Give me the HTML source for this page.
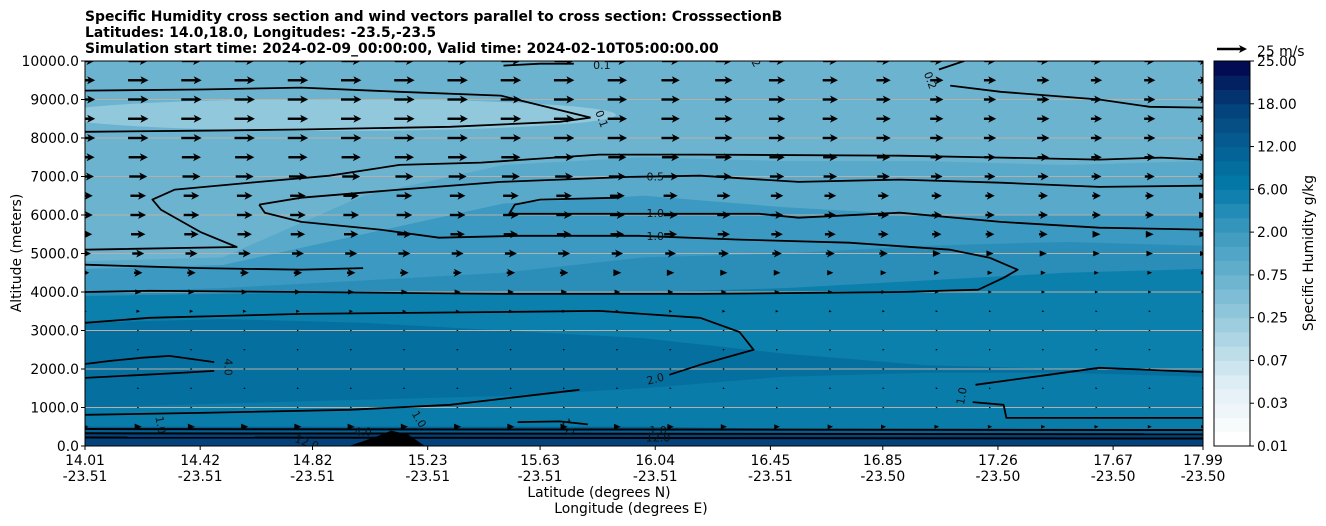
<!DOCTYPE html>
<html><head><meta charset="utf-8"><style>
body{margin:0;background:#fff;}
svg{display:block;font-family:"DejaVu Sans","Liberation Sans",sans-serif;}
</style></head><body>
<svg id="chart" width="1326" height="526" viewBox="0 0 1326 526"></svg>
<script>
// ---- data ----
const xTickLats = [14.01,14.42,14.82,15.23,15.63,16.04,16.45,16.85,17.26,17.67,17.99];
const xTickLons = ["-23.51","-23.51","-23.51","-23.51","-23.51","-23.51","-23.51","-23.50","-23.50","-23.50","-23.50"];
const yTicks = [0,1000,2000,3000,4000,5000,6000,7000,8000,9000,10000];
const cbTicks = ["0.01","0.03","0.07","0.25","0.75","2.00","6.00","12.00","18.00","25.00"];
const bandLats = [14.01,14.5,15.0,15.5,16.0,16.5,17.0,17.5,17.99];
const bandColors = ["#58a9ca","#3c99c1","#2b8eb9","#0c80ad","#05709f","#0a7ca9","#045f95","#03427a"];
const band1 = [4800,4900,6500,7300,7500,7400,7400,7300,7400];
const band2 = [4600,4700,5500,6300,6500,6200,6000,6000,6000];
const band3 = [4000,4100,4300,4500,4900,5000,5200,5300,5200];
const band4 = [3900,3950,4000,4000,4000,4100,4300,4500,4600];
const band5 = [3200,3300,3200,3000,2800,2400,2100,2000,2000];
const band6 = [1000,1100,1200,1300,1500,1800,1900,1900,1800];
const band7 = [500,500,500,500,500,450,400,400,400];
const band8 = [300,300,300,320,300,280,280,280,280];
const windAlts = [10000,9500,9000,8500,8000,7500,7000,6500,6000,5500,5000,4500,4000,3500,3000,2500,2000,1500,1000,500];
const windRowSpeed = [16,17,17,17,17,16,15,13,13,12,10,7,5,3,1.5,1,1,1,1.2,6];
const windColScale = [1,1,1,1,1,1,1,1,1,1,0.95,0.9,0.85,0.8,0.75,0.7,0.65,0.6,0.6,0.55,0.55,0.5];
const contourA = [[14.01,9230],[14.42,9260],[14.78,9310],[15.13,9200],[15.49,9100],[15.81,8530]];
const contourB = [[14.01,8160],[14.42,8190],[14.78,8220],[15.31,8290],[15.7,8420],[15.81,8530]];
const contourTR1 = [[17.05,9780],[17.14,10000]];
const contourTR2 = [[17.09,9360],[17.27,9200],[17.62,9000],[17.8,8810],[17.99,8790]];
const contourTop = [[15.5,9880],[15.63,9930],[15.75,9930]];
const contourC = [[14.01,5100],[14.55,5170],[14.42,5560],[14.28,6140],[14.25,6400],[14.33,6660],[14.63,6860],[14.88,7020],[15.13,7300],[15.42,7360],[15.84,7570],[16.2,7570],[16.91,7540],[17.27,7490],[17.62,7440],[17.84,7490],[17.99,7440]];
const contourC2 = [[14.63,6270],[14.78,6450],[15.13,6660],[15.49,6860],[15.95,6990],[16.2,7020],[16.55,6860],[16.91,6920],[17.27,6840],[17.62,6730],[17.99,6760]];
const contourD = [[15.91,6450],[15.63,6400],[15.54,6270],[15.52,6030],[15.98,6030],[16.41,6030],[16.55,5930],[16.91,6060],[17.27,5820],[17.62,5670],[17.99,5620]];
const contourE = [[14.63,6270],[14.65,6060],[14.78,5820],[15.06,5620],[15.27,5410],[15.56,5460],[15.98,5460],[16.34,5360],[16.73,5280],[17.09,5100],[17.23,4890],[17.33,4580],[17.28,4370],[17.19,4060],[16.91,4000],[16.2,3950],[15.49,3950],[14.78,4000],[14.24,4030],[14.01,4000]];
const contourF = [[14.01,4710],[14.42,4620],[14.78,4580],[15.0,4620]];
const contourG = [[14.01,3200],[14.24,3330],[14.78,3430],[15.49,3480],[15.84,3510],[16.2,3330],[16.34,2960],[16.39,2500],[16.36,2440],[16.2,2110],[16.09,1850]];
const contourH1 = [[14.01,2130],[14.1,2210],[14.21,2290],[14.31,2340],[14.47,2180]];
const contourH2 = [[14.01,1770],[14.35,1900],[14.47,1950]];
const contourI = [[14.01,810],[14.42,860],[14.95,940],[15.31,1070],[15.77,1460]];
const contourJ = [[17.18,1590],[17.44,1850],[17.62,2030],[17.99,1920]];
const contourK = [[17.17,1140],[17.28,1070],[17.29,730],[17.62,730],[17.99,730]];
const contourS = [[15.55,620],[15.7,640],[15.8,560]];
const bottomAlts = [440,330,220];
const terrain = [[14.95,0],[15.05,250],[15.1,400],[15.16,300],[15.22,0]];

// ---- axes ----
const FS=13.9;
const X0=85,X1=1203,Y0=446,Y1=61;
const xs = v => X0+(v-14.01)/(17.99-14.01)*(X1-X0);
const ys = v => Y0-(v/10000)*(Y0-Y1);
const NS="http://www.w3.org/2000/svg";
const svg=document.getElementById('chart');
function mk(tag,attrs,parent){const e=document.createElementNS(NS,tag);for(const k in attrs)e.setAttribute(k,attrs[k]);(parent||svg).appendChild(e);return e;}
const defs=mk('defs',{});
const cp=mk('clipPath',{id:'pc'},defs);mk('rect',{x:X0,y:Y1,width:X1-X0,height:Y0-Y1},cp);
const plot=mk('g',{'clip-path':'url(#pc)'});



const bg=mk('rect',{x:X0,y:Y1,width:X1-X0,height:Y0-Y1,fill:'#6cb3cf'},plot);


const lp=mk('ellipse',{cx:xs(14.9),cy:ys(8600),rx:xs(15.9)-xs(14.9),ry:16,fill:'#92c8dc'},plot);


const bands=[band1,band2,band3,band4,band5,band6,band7,band8];
bands.forEach((b,i)=>{
  let d='M'+xs(bandLats[0])+','+ys(0);
  b.forEach((a,j)=>{d+=' L'+xs(bandLats[j])+','+ys(a);});
  d+=' L'+xs(bandLats[bandLats.length-1])+','+ys(0)+'Z';
  const p=mk('path',{d:d,fill:bandColors[i]},plot);
  
  
});
{let d='M'+terrain.map(p=>xs(p[0])+','+ys(p[1])).join(' L')+'Z';
const t=mk('path',{d:d,fill:'#000'},plot);

}
yTicks.forEach(v=>{if(v>0&&v<10000){const g=mk('line',{x1:X0,x2:X1,y1:ys(v),y2:ys(v),stroke:'#b8b0a8','stroke-width':1},plot);

}});
const contours=[contourA,contourB,contourTR1,contourTR2,contourTop,contourC,contourC2,contourD,contourE,contourF,contourG,contourH1,contourH2,contourI,contourJ,contourK,contourS];
contours.forEach((c,i)=>{
  const d='M'+c.map(p=>xs(p[0]).toFixed(1)+','+ys(p[1]).toFixed(1)).join(' L');
  const p=mk('path',{d:d,fill:'none',stroke:'#000','stroke-width':1.8,'stroke-linejoin':'round'},plot);
  
  
});
bottomAlts.forEach(a=>{
  const l=mk('line',{x1:X0,x2:X1,y1:ys(a),y2:ys(a)+1,stroke:'#000','stroke-width':2},plot);
  
  
});
const clabels=[["0.5",16.04,7000,0],["1.0",16.04,6050,0],["1.0",16.04,5450,0],["2.0",16.04,1750,-15],["4.0",14.52,2050,90],["1.0",17.13,1300,-80],["0.1",15.85,8500,70],["0.2",17.02,9500,70],["0.1",15.85,9900,0],["2",16.4,9950,60],["12.0",14.8,100,20],["4.0",15.0,380,0],["1.0",15.2,700,60],["1.0",15.73,500,70],["12.0",16.05,220,0],["1.0",16.05,420,0],["1.0",14.28,550,80]];
clabels.forEach(l=>{
  const t=mk('text',{x:xs(l[1]),y:ys(l[2])+4,'font-size':11,'text-anchor':'middle',fill:'#111',transform:'rotate('+l[3]+' '+xs(l[1])+' '+ys(l[2])+')'},plot);
  t.textContent=l[0];
  
  
});
const pxPerMs=30/25;
function arrow(cx,cy,L,parent){
  const g=mk('g',{},parent);
  if(L>=8){
    const x0=cx-L/2,x1=cx+L/2;
    mk('line',{x1:x0,y1:cy,x2:x1-6,y2:cy,stroke:'#000','stroke-width':2.4},g);
    mk('path',{d:`M${x1},${cy} L${x1-8},${cy-4} L${x1-6},${cy} L${x1-8},${cy+4}Z`,fill:'#000'},g);
  } else {
    const s=Math.max(L/8,0.25);
    mk('path',{d:`M${cx+4*s},${cy} L${cx-4*s},${cy-3.5*s} L${cx-4*s},${cy+3.5*s}Z`,fill:'#000'},g);
  }
  return g;
}
windAlts.forEach((a,r)=>{
  windColScale.forEach((f,c)=>{
    const cx=X0+c*(X1-X0)/(windColScale.length-1);
    const g=arrow(cx,ys(a),windRowSpeed[r]*f*pxPerMs,plot);
    
    
  });
});
const fr=mk('rect',{x:X0,y:Y1,width:X1-X0,height:Y0-Y1,fill:'none',stroke:'#000','stroke-width':1});


yTicks.forEach(v=>{
  mk('line',{x1:X0-4,x2:X0,y1:ys(v),y2:ys(v),stroke:'#000'});
  const t=mk('text',{x:X0-6,y:ys(v)+5,'font-size':FS,'text-anchor':'end'});
  t.textContent=v.toFixed(1);
  
  
});
xTickLats.forEach((v,i)=>{
  mk('line',{x1:xs(v),x2:xs(v),y1:Y0,y2:Y0+4,stroke:'#000'});
  const t=mk('text',{x:xs(v),y:465,'font-size':FS,'text-anchor':'middle'});
  t.textContent=v.toFixed(2);
  
  
  const t2=mk('text',{x:xs(v),y:481,'font-size':FS,'text-anchor':'middle'});
  t2.textContent=xTickLons[i];
  
  
});
{const t=mk('text',{x:599,y:497,'font-size':FS,'text-anchor':'middle'});t.textContent='Latitude (degrees N)';


const t2=mk('text',{x:631,y:513,'font-size':FS,'text-anchor':'middle'});t2.textContent='Longitude (degrees E)';


const t3=mk('text',{x:21,y:253,'font-size':FS,'text-anchor':'middle',transform:'rotate(-90 21 253)'});t3.textContent='Altitude (meters)';

}
["Specific Humidity cross section and wind vectors parallel to cross section: CrosssectionB","Latitudes: 14.0,18.0, Longitudes: -23.5,-23.5","Simulation start time: 2024-02-09_00:00:00, Valid time: 2024-02-10T05:00:00.00"].forEach((s,i)=>{
  const t=mk('text',{x:85,y:21+i*16,'font-size':FS,'font-weight':'bold'});t.textContent=s;
  
  
});
{const g=arrow(1232,49,30,svg);


const t=mk('text',{x:1257,y:56,'font-size':FS});t.textContent='25 m/s';

}
const stops=[[0,[255,255,255]],[0.15,[222,238,244]],[0.3,[160,207,224]],[0.45,[100,175,204]],[0.6,[43,144,185]],[0.68,[3,122,168]],[0.8,[5,93,145]],[0.9,[4,63,120]],[1,[2,12,82]]];
function ramp(t){for(let i=1;i<stops.length;i++){if(t<=stops[i][0]){const a=stops[i-1],b=stops[i],f=(t-a[0])/(b[0]-a[0]);return 'rgb('+a[1].map((v,k)=>Math.round(v+(b[1][k]-v)*f)).join(',')+')';}}return 'rgb(2,12,82)';}
const CB0=1214,CB1=1250,nb=27,bh=(Y0-Y1)/nb;
const cbg=mk('g',{});


for(let i=0;i<nb;i++){mk('rect',{x:CB0,y:Y0-(i+1)*bh,width:CB1-CB0,height:bh+0.5,fill:ramp(i/(nb-1))},cbg);}
mk('rect',{x:CB0,y:Y1,width:CB1-CB0,height:Y0-Y1,fill:'none',stroke:'#000'},cbg);
cbTicks.forEach((s,i)=>{
  const y=Y0-i*(Y0-Y1)/(cbTicks.length-1);
  mk('line',{x1:CB1,x2:CB1+4,y1:y,y2:y,stroke:'#000'},cbg);
  const t=mk('text',{x:CB1+7,y:y+5,'font-size':FS},cbg);t.textContent=s;
  
  
});
{const t=mk('text',{x:1313,y:253,'font-size':FS,'text-anchor':'middle',transform:'rotate(-90 1313 253)'});t.textContent='Specific Humidity g/kg';

}
</script>
</body></html>
